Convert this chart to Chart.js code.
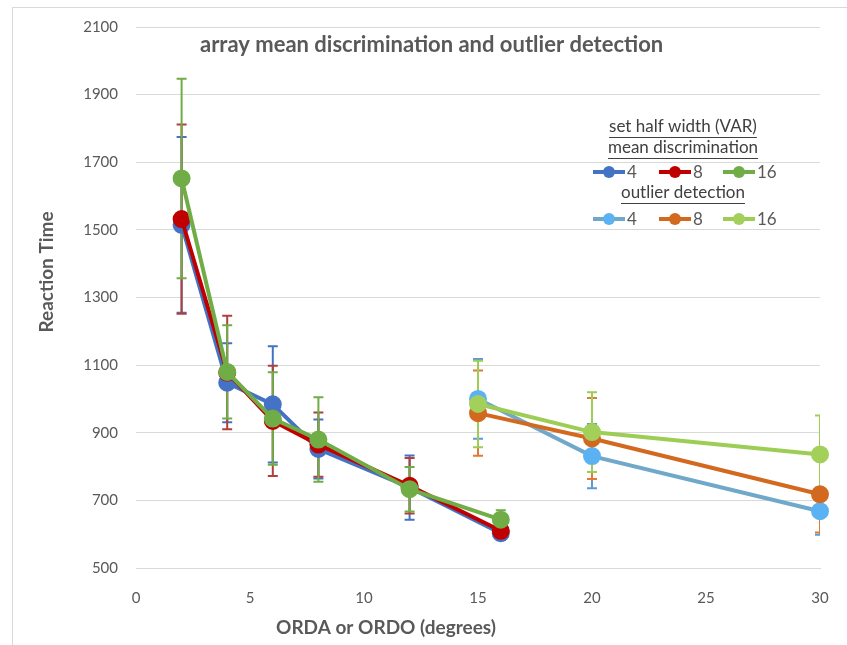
<!DOCTYPE html>
<html>
<head>
<meta charset="utf-8">
<script src="https://cdn.jsdelivr.net/npm/chart.js@4"></script>
<style>
  body { margin: 0; background: #fff; }
  #wrap { position: relative; width: 847px; height: 645px; }
  #frame { position: absolute; left: 12px; top: 7px; right: 0; bottom: 0;
           border-left: 1px solid #d9d9d9; border-top: 1px solid #d9d9d9; pointer-events: none; }
</style>
</head>
<body>
<div id="wrap">
  <canvas id="myChart" width="847" height="645"></canvas>
  <div id="frame"></div>
</div>
<script>
// mean discrimination, set half width 4 / 8 / 16
const mdX = [2, 4, 6, 8, 12, 16];
const md4 = [1515, 1048, 984, 852, 738, 603];
const md4Err = [260, 117, 172, 87, 95, 20];
const md8 = [1532, 1078, 935, 865, 743, 610];
const md8Err = [280, 168, 163, 95, 82, 20];
const md16 = [1652, 1080, 942, 880, 733, 643];
const md16Err = [295, 138, 137, 125, 66, 28];

// outlier detection, set half width 4 / 8 / 16
const odX = [15, 20, 30];
const od4 = [1000, 831, 668];
const od4Err = [118, 95, 70];
const od8 = [958, 883, 718];
const od8Err = [126, 120, 113];
const od16 = [985, 902, 836];
const od16Err = [128, 118, 115];

const xTicks = [0, 5, 10, 15, 20, 25, 30];
const yTicks = [500, 700, 900, 1100, 1300, 1500, 1700, 1900, 2100];

const FONT = 'Lato, "Open Sans", sans-serif';
const GRAY = '#595959';

function pts(xs, ys) {
    return xs.map((x, i) => ({ x: x, y: ys[i] }));
}

function series(label, xs, ys, err, line, marker, errColor, order) {
    return {
        label: label,
        data: pts(xs, ys),
        err: err,
        errColor: errColor,
        order: order,
        borderColor: line,
        backgroundColor: marker,
        pointBackgroundColor: marker,
        pointBorderColor: marker,
        borderWidth: 4,
        pointRadius: 7,
        pointHoverRadius: 7,
        clip: false
    };
}

// later series sit on top, as in the original
const datasets = [
    series('4', mdX, md4, md4Err, '#4472C4', '#4472C4', '#4472C4', 6),
    series('8', mdX, md8, md8Err, '#C00000', '#C00000', '#B0403C', 5),
    series('16', mdX, md16, md16Err, '#70AD47', '#70AD47', '#70AD47', 4),
    series('4', odX, od4, od4Err, '#70A8CA', '#5BB2F2', '#5B9BD5', 3),
    series('8', odX, od8, od8Err, '#D2691E', '#D2691E', '#E07A35', 2),
    series('16', odX, od16, od16Err, '#9DCD55', '#A2D05A', '#9DCD55', 1)
];

// error bars are drawn under the lines
const errorBars = {
    id: 'errorBars',
    beforeDatasetsDraw(chart) {
        const { ctx, chartArea, scales: { x, y } } = chart;
        ctx.save();
        ctx.beginPath();
        ctx.rect(chartArea.left, 0, chartArea.right - chartArea.left, chart.height);
        ctx.clip();
        chart.data.datasets.forEach(ds => {
            ctx.strokeStyle = ds.errColor;
            ctx.lineWidth = 2;
            ds.data.forEach((p, i) => {
                const px = x.getPixelForValue(p.x);
                const top = y.getPixelForValue(p.y + ds.err[i]);
                const bot = y.getPixelForValue(p.y - ds.err[i]);
                ctx.beginPath();
                ctx.moveTo(px, top); ctx.lineTo(px, bot);
                ctx.moveTo(px - 5, top); ctx.lineTo(px + 5, top);
                ctx.moveTo(px - 5, bot); ctx.lineTo(px + 5, bot);
                ctx.stroke();
            });
        });
        ctx.restore();
    }
};

function underlined(ctx, text, cx, cy) {
    ctx.fillText(text, cx, cy);
    const w = ctx.measureText(text).width;
    ctx.fillRect(cx - w / 2, cy + 10, w, 1);
}

function legendRow(ctx, sets, y) {
    const xs = [593, 659, 723];
    sets.forEach((ds, i) => {
        const x0 = xs[i];
        ctx.strokeStyle = ds.borderColor;
        ctx.lineWidth = 4;
        ctx.beginPath();
        ctx.moveTo(x0, y); ctx.lineTo(x0 + 32, y);
        ctx.stroke();
        ctx.fillStyle = ds.pointBackgroundColor;
        ctx.beginPath();
        ctx.arc(x0 + 16, y, 6, 0, Math.PI * 2);
        ctx.fill();
        ctx.fillStyle = GRAY;
        ctx.textAlign = 'left';
        ctx.fillText(ds.label, x0 + 34, y + 1);
    });
}

const annotations = {
    id: 'annotations',
    afterDraw(chart) {
        const { ctx } = chart;
        const ds = chart.data.datasets;
        ctx.save();
        ctx.textBaseline = 'middle';
        ctx.fillStyle = GRAY;

        // title inside the plot
        ctx.font = 'bold 22px ' + FONT;
        ctx.textAlign = 'left';
        ctx.fillText('array mean discrimination and outlier detection', 200, 45);

        // axis titles
        ctx.font = 'bold 19px ' + FONT;
        ctx.textAlign = 'center';
        ctx.fillText('ORDA or ORDO (degrees)', 386, 628);
        ctx.save();
        ctx.translate(47, 272);
        ctx.rotate(-Math.PI / 2);
        ctx.fillText('Reaction Time', 0, 0);
        ctx.restore();

        // legend
        ctx.font = '17px ' + FONT;
        ctx.fillStyle = '#404040';
        ctx.textAlign = 'center';
        underlined(ctx, 'set half width (VAR)', 683, 127);
        underlined(ctx, 'mean discrimination', 683, 148);
        legendRow(ctx, ds.slice(0, 3), 172);
        ctx.fillStyle = '#404040';
        ctx.textAlign = 'center';
        underlined(ctx, 'outlier detection', 683, 193);
        legendRow(ctx, ds.slice(3, 6), 219);
        ctx.restore();
    }
};

const config = {
    type: 'line',
    data: { datasets: datasets },
    options: {
        responsive: false,
        animation: false,
        events: [],
        layout: { padding: { top: 22, right: 27, left: 0, bottom: 0 } },
        plugins: {
            legend: { display: false },
            tooltip: { enabled: false }
        },
        scales: {
            x: {
                type: 'linear',
                min: 0,
                max: 30,
                afterBuildTicks: s => { s.ticks = xTicks.map(v => ({ value: v })); },
                afterFit: s => { s.height = 77; },
                grid: { display: false },
                border: { display: true, color: '#d9d9d9', width: 1 },
                ticks: { color: GRAY, padding: 13, font: { family: FONT, size: 15 }, callback: v => String(v) }
            },
            y: {
                type: 'linear',
                min: 500,
                max: 2100,
                afterBuildTicks: s => { s.ticks = yTicks.map(v => ({ value: v })); },
                afterFit: s => { s.width = 136; },
                grid: { color: '#d9d9d9', lineWidth: 1, drawTicks: false },
                border: { display: false },
                ticks: { color: GRAY, padding: 18, font: { family: FONT, size: 15 }, callback: v => String(v) }
            }
        }
    },
    plugins: [errorBars, annotations]
};

new Chart(document.getElementById('myChart'), config);
</script>
</body>
</html>
